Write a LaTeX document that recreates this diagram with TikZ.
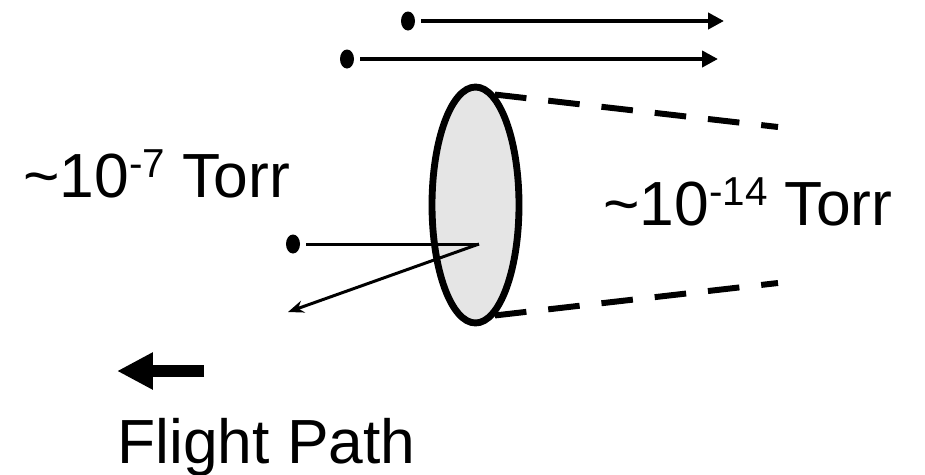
\documentclass[tikz,border=0pt]{standalone}
\usepackage{fontspec}
\setmainfont{Liberation Sans}
\usetikzlibrary{arrows.meta,shapes.geometric}
\newcommand{\expo}[1]{\raisebox{0.32em}{\fontsize{23}{23}\selectfont #1}}

\begin{document}
\begin{tikzpicture}[x=0.02cm,y=-0.02cm,
    lbl/.style={anchor=base west,inner sep=0pt,font=\fontsize{35.5}{42}\selectfont},
    dot/.style={ellipse,fill=black,inner sep=0pt,minimum width=0.28cm,
                minimum height=0.38cm,outer sep=0.12cm},
    beam/.style={line width=2.3pt,-{Triangle[length=9pt,width=9pt]}},
    ray/.style={line width=1.7pt},
    wake/.style={line width=3.4pt,dash pattern=on 18pt off 12.5pt}]
  \useasboundingbox (0,0) rectangle (925,474);
  % particles passing above
  \node[dot] (top1) at (408,21) {};
  \node[dot] (top2) at (347,59) {};
  \coordinate (end1) at (724,21);
  \coordinate (end2) at (718,59);
  \draw[beam] (top1) -- (end1);
  \draw[beam] (top2) -- (end2);
  % disk and wake behind it
  \node[ellipse,draw,line width=3.9pt,fill=black!10,inner sep=0pt,
        minimum width=1.74cm,minimum height=4.72cm] (disk) at (475.5,205) {};
  \coordinate (wake1) at (778,127);
  \coordinate (wake2) at (778,283);
  \draw[wake] (disk.80) -- (wake1);
  \draw[wake] (disk.-80) -- (wake2);
  % particle hitting the disk
  \node[dot] (src) at (293,244) {};
  \coordinate (hit) at (479,244);
  \coordinate (back) at (288,312);
  \draw[ray] (src) -- (hit);
  \draw[ray,-{Stealth[length=9pt,width=7pt]}] (hit) -- (back);
  % labels
  \node[lbl] (low) at (23,197) {\textasciitilde 10\expo{-7} Torr};
  \node[lbl] (high) at (603,225) {\textasciitilde 10\expo{-14} Torr};
  \node[lbl] (fp) at (117,463) {Flight Path};
  \coordinate (fl0) at (204,371);
  \coordinate (fl1) at (117,371);
  \draw[line width=6.8pt,-{Triangle[length=20.4pt,width=19.8pt]}] (fl0) -- (fl1);
\end{tikzpicture}
\end{document}
